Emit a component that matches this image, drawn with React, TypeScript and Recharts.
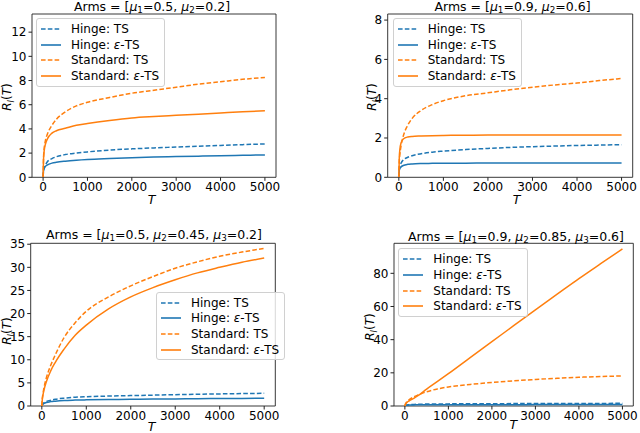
import React from "react";
import { LineChart, Line, XAxis, YAxis, ReferenceArea } from "recharts";

const BLUE = "#1f77b4";
const ORANGE = "#ff7f0e";
const FONT = "'DejaVu Sans', sans-serif";

const T = [0, 10, 25, 50, 100, 200, 300, 500, 750, 1000, 1500, 2000, 2500, 3000, 3500, 4000, 4500, 5000];
const X_TICKS = [0, 1000, 2000, 3000, 4000, 5000];

// panel 1: mu = [0.5, 0.2]
const p1Arms = [0.5, 0.2];
const p1HingeTS = [0, 0.55, 0.8, 1.0, 1.3, 1.55, 1.7, 1.88, 2.0, 2.1, 2.25, 2.35, 2.43, 2.5, 2.57, 2.63, 2.7, 2.76];
const p1HingeEps = [0, 0.55, 0.72, 0.88, 1.03, 1.17, 1.24, 1.33, 1.41, 1.47, 1.55, 1.62, 1.67, 1.71, 1.75, 1.79, 1.82, 1.85];
const p1StdTS = [0, 1.6, 2.4, 3.0, 3.6, 4.3, 4.8, 5.4, 5.9, 6.2, 6.6, 6.95, 7.2, 7.45, 7.7, 7.9, 8.1, 8.25];
const p1StdEps = [0, 1.5, 2.2, 2.7, 3.2, 3.65, 3.85, 4.05, 4.3, 4.45, 4.7, 4.9, 5.02, 5.12, 5.22, 5.32, 5.42, 5.5];
const p1YTicks = [0, 2, 4, 6, 8, 10, 12];

// panel 2: mu = [0.9, 0.6]
const p2Arms = [0.9, 0.6];
const p2HingeTS = [0, 0.45, 0.6, 0.72, 0.88, 1.02, 1.1, 1.2, 1.28, 1.33, 1.41, 1.47, 1.52, 1.56, 1.59, 1.62, 1.64, 1.66];
const p2HingeEps = [0, 0.35, 0.45, 0.53, 0.6, 0.66, 0.68, 0.7, 0.71, 0.72, 0.72, 0.73, 0.73, 0.73, 0.73, 0.73, 0.73, 0.73];
const p2StdTS = [0, 0.8, 1.2, 1.6, 2.1, 2.65, 3.0, 3.4, 3.7, 3.9, 4.15, 4.3, 4.45, 4.58, 4.7, 4.8, 4.92, 5.03];
const p2StdEps = [0, 1.0, 1.45, 1.75, 1.95, 2.05, 2.08, 2.1, 2.12, 2.13, 2.14, 2.15, 2.15, 2.15, 2.15, 2.15, 2.15, 2.15];
const p2YTicks = [0, 2, 4, 6, 8];

// panel 3: mu = [0.5, 0.45, 0.2]
const p3Arms = [0.5, 0.45, 0.2];
const p3HingeTS = [0, 0.3, 0.5, 0.7, 0.95, 1.25, 1.45, 1.7, 1.9, 2.0, 2.15, 2.25, 2.35, 2.45, 2.55, 2.62, 2.68, 2.74];
const p3HingeEps = [0, 0.25, 0.4, 0.55, 0.75, 0.95, 1.05, 1.2, 1.28, 1.33, 1.4, 1.45, 1.5, 1.54, 1.58, 1.61, 1.64, 1.66];
const p3StdTS = [0, 1.5, 2.6, 4.0, 6.0, 8.8, 11.0, 14.8, 18.0, 20.5, 23.6, 26.0, 28.0, 29.8, 31.2, 32.4, 33.3, 34.1];
const p3StdEps = [0, 1.3, 2.3, 3.5, 5.2, 7.6, 9.4, 12.3, 15.3, 17.5, 21.0, 23.6, 25.6, 27.3, 28.8, 30.0, 31.1, 32.0];
const p3YTicks = [0, 5, 10, 15, 20, 25, 30, 35];

// panel 4: mu = [0.9, 0.85, 0.6]
const p4Arms = [0.9, 0.85, 0.6];
const p4HingeTS = [0, 0.3, 0.5, 0.65, 0.8, 0.95, 1.05, 1.15, 1.22, 1.28, 1.35, 1.4, 1.44, 1.48, 1.51, 1.54, 1.57, 1.6];
const p4HingeEps = [0, 0.25, 0.4, 0.5, 0.6, 0.66, 0.7, 0.73, 0.76, 0.78, 0.8, 0.81, 0.82, 0.83, 0.84, 0.85, 0.86, 0.87];
const p4StdTS = [0, 1.0, 1.8, 2.7, 3.8, 5.4, 6.6, 8.6, 10.3, 11.5, 13.0, 14.2, 15.2, 16.0, 16.7, 17.3, 17.8, 18.1];
const p4StdEps = [0, 0.8, 1.5, 2.2, 3.1, 4.6, 6.2, 10.2, 14.8, 19.5, 29.2, 38.8, 48.4, 58.0, 67.4, 76.8, 85.8, 94.7];
const p4YTicks = [0, 20, 40, 60, 80];

const SERIES = [
  { key: "hingeTS", name: "Hinge: TS", color: BLUE, dashed: true },
  { key: "hingeEps", name: "Hinge: ε-TS", color: BLUE, dashed: false },
  { key: "stdTS", name: "Standard: TS", color: ORANGE, dashed: true },
  { key: "stdEps", name: "Standard: ε-TS", color: ORANGE, dashed: false },
];

const DASH = "4.6 2.2";

function buildRows(hingeTS: number[], hingeEps: number[], stdTS: number[], stdEps: number[]) {
  return T.map((t, i) => ({
    t,
    hingeTS: hingeTS[i],
    hingeEps: hingeEps[i],
    stdTS: stdTS[i],
    stdEps: stdEps[i],
  }));
}

const PANELS = [
  {
    arms: p1Arms,
    data: buildRows(p1HingeTS, p1HingeEps, p1StdTS, p1StdEps),
    yMax: 13.5,
    yTicks: p1YTicks,
    box: { left: 0, top: 0, width: 320, height: 215 },
    margin: { top: 14, right: 44, left: 0, bottom: 17.7 },
    yAxisWidth: 32,
    title: [152, 7],
    yLabel: [6.5, 97],
    xLabel: [151.7, 200],
    legend: [36, 18],
  },
  {
    arms: p2Arms,
    data: buildRows(p2HingeTS, p2HingeEps, p2StdTS, p2StdEps),
    yMax: 8.31,
    yTicks: p2YTicks,
    box: { left: 320, top: 0, width: 320, height: 215 },
    margin: { top: 14, right: 7.3, left: 37.7, bottom: 17.7 },
    yAxisWidth: 30,
    title: [512.5, 7],
    yLabel: [372, 97],
    xLabel: [516.7, 200],
    legend: [392.7, 18],
  },
  {
    arms: p3Arms,
    data: buildRows(p3HingeTS, p3HingeEps, p3StdTS, p3StdEps),
    yMax: 35.2,
    yTicks: p3YTicks,
    box: { left: 0, top: 215, width: 320, height: 218 },
    margin: { top: 28.3, right: 44.7, left: 0, bottom: 7 },
    yAxisWidth: 30.7,
    title: [154, 235],
    yLabel: [7, 331],
    xLabel: [151.7, 426.5],
    legend: [156, 291.7],
  },
  {
    arms: p4Arms,
    data: buildRows(p4HingeTS, p4HingeEps, p4StdTS, p4StdEps),
    yMax: 98.1,
    yTicks: p4YTicks,
    box: { left: 320, top: 215, width: 320, height: 218 },
    margin: { top: 28.3, right: 6.7, left: 44, bottom: 7 },
    yAxisWidth: 30,
    title: [516, 236.5],
    yLabel: [369.5, 327],
    xLabel: [513.3, 424.5],
    legend: [398.3, 248.3],
  },
];

const centered = (x: number, y: number): React.CSSProperties => ({
  position: "absolute",
  left: x,
  top: y,
  transform: "translate(-50%, -50%)",
  whiteSpace: "nowrap",
  lineHeight: 1,
});

const subStyle: React.CSSProperties = { fontSize: "70%", verticalAlign: "-0.3em", lineHeight: 0 };

function Title({ arms, at }: { arms: number[]; at: number[] }) {
  return (
    <div style={{ ...centered(at[0], at[1]), fontSize: 12.5 }}>
      Arms = [
      {arms.map((mu, i) => (
        <span key={i}>
          <i>μ</i>
          <span style={subStyle}>{i + 1}</span>={mu}
          {i < arms.length - 1 ? ", " : ""}
        </span>
      ))}
      ]
    </div>
  );
}

function SeriesName({ name }: { name: string }) {
  const parts = name.split("ε");
  if (parts.length === 1) return <>{name}</>;
  return (
    <>
      {parts[0]}
      <i>ε</i>
      {parts[1]}
    </>
  );
}

function LegendBox({ at }: { at: number[] }) {
  return (
    <div
      style={{
        position: "absolute",
        left: at[0],
        top: at[1],
        padding: "2px 5px 2px 3px",
        border: "1px solid #d0d0d0",
        borderRadius: 3,
        background: "rgba(255,255,255,0.8)",
        fontSize: 12,
      }}
    >
      {SERIES.map((s) => (
        <div key={s.key} style={{ display: "flex", alignItems: "center", height: 15.7 }}>
          <svg width={22} height={8} style={{ marginRight: 9 }}>
            <line
              x1={1}
              y1={4}
              x2={21}
              y2={4}
              stroke={s.color}
              strokeWidth={1.6}
              strokeDasharray={s.dashed ? DASH : undefined}
            />
          </svg>
          <span style={{ whiteSpace: "nowrap" }}>
            <SeriesName name={s.name} />
          </span>
        </div>
      ))}
    </div>
  );
}

function Panel({ panel }: { panel: (typeof PANELS)[number] }) {
  const tick = { fontSize: 12, fill: "#000" };
  return (
    <>
      <div style={{ position: "absolute", ...panel.box }}>
        <LineChart width={panel.box.width} height={panel.box.height} data={panel.data} margin={panel.margin}>
          <XAxis
            dataKey="t"
            type="number"
            domain={[-250, 5250]}
            ticks={X_TICKS}
            tick={tick}
            tickSize={3.5}
            tickMargin={1.5}
            height={20}
            axisLine={false}
            tickLine={{ stroke: "#222" }}
            allowDataOverflow
          />
          <YAxis
            type="number"
            domain={[0, panel.yMax]}
            ticks={panel.yTicks}
            tick={tick}
            tickSize={3.5}
            tickMargin={2}
            width={panel.yAxisWidth}
            axisLine={false}
            tickLine={{ stroke: "#222" }}
            allowDataOverflow
          />
          {SERIES.map((s) => (
            <Line
              key={s.key}
              dataKey={s.key}
              type="monotone"
              stroke={s.color}
              strokeWidth={1.5}
              strokeDasharray={s.dashed ? DASH : undefined}
              dot={false}
              activeDot={false}
              isAnimationActive={false}
            />
          ))}
          <ReferenceArea
            x1={-250}
            x2={5250}
            y1={0}
            y2={panel.yMax}
            fill="none"
            stroke="#222"
            strokeWidth={0.9}
            ifOverflow="visible"
          />
        </LineChart>
      </div>
      <Title arms={panel.arms} at={panel.title} />
      <div style={{ ...centered(panel.yLabel[0], panel.yLabel[1]), fontSize: 12, transform: "translate(-50%, -50%) rotate(-90deg)" }}>
        <i>R</i>
        <span style={subStyle}>
          <i>I</i>
        </span>
        (<i>T</i>)
      </div>
      <div style={{ ...centered(panel.xLabel[0], panel.xLabel[1]), fontSize: 12.5 }}>
        <i>T</i>
      </div>
      <LegendBox at={panel.legend} />
    </>
  );
}

export default function App() {
  return (
    <div
      style={{
        position: "absolute",
        left: 0,
        top: 0,
        width: 640,
        height: 433,
        background: "#fff",
        fontFamily: FONT,
        color: "#000",
        overflow: "hidden",
      }}
    >
      {PANELS.map((p, i) => (
        <Panel key={i} panel={p} />
      ))}
    </div>
  );
}
